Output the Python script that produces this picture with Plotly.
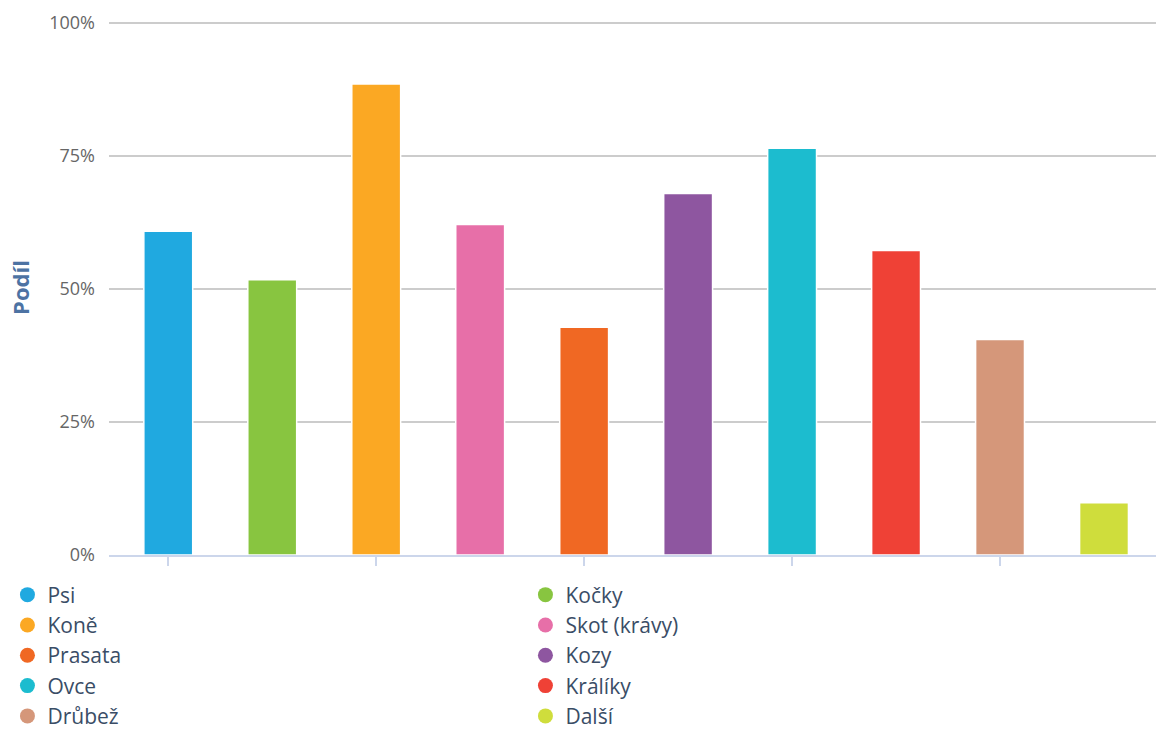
import plotly.graph_objects as go

# Podíl zvířat podle druhu (v %)
categories = ["Psi", "Kočky", "Koně", "Skot (krávy)", "Prasata",
              "Kozy", "Ovce", "Králíky", "Drůbež", "Další"]
values = [60.8, 51.7, 88.5, 62.1, 42.8, 67.9, 76.4, 57.2, 40.5, 9.8]
colors = ["#20a9e0", "#88c540", "#fba823", "#e76fa8", "#f06823",
          "#8e56a0", "#1cbccf", "#ef4136", "#d5977a", "#cfdd3c"]
y_ticks = [0, 25, 50, 75, 100]
y_tick_labels = ["0%", "25%", "50%", "75%", "100%"]

FONT = "Open Sans"

fig = go.Figure()

positions = list(range(len(categories)))

for i, (name, val, col) in enumerate(zip(categories, values, colors)):
    fig.add_trace(go.Bar(
        x=[positions[i]], y=[val], name=name,
        width=0.47,
        marker=dict(color=col, line=dict(color="white", width=1.5)),
        showlegend=False,
        hovertemplate=name + ": %{y:.1f}%<extra></extra>",
    ))

# round legend markers
for name, col in zip(categories, colors):
    fig.add_trace(go.Scatter(
        x=[None], y=[None], mode="markers", name=name,
        marker=dict(color=col, size=15, symbol="circle"),
        showlegend=True,
    ))

fig.update_layout(
    width=1156, height=729,
    margin=dict(l=109, r=0, t=20, b=174, autoexpand=False),
    paper_bgcolor="white", plot_bgcolor="white",
    font=dict(family=FONT),
    barmode="overlay",
    showlegend=True,
    legend=dict(
        orientation="h",
        x=-0.097, xanchor="left",
        y=-0.0365, yanchor="top",
        entrywidth=473, entrywidthmode="pixels",
        font=dict(family=FONT, size=21, color="#3a4d66"),
        bgcolor="rgba(0,0,0,0)",
        traceorder="normal",
    ),
)

fig.update_xaxes(
    range=[-0.57, 9.5],
    tickvals=[0, 2, 4, 6, 8],
    showticklabels=False,
    ticks="outside", ticklen=9, tickwidth=2, tickcolor="#ccd6eb",
    showline=True, linecolor="#ccd6eb", linewidth=2,
    showgrid=False, zeroline=False,
)

fig.update_yaxes(
    range=[0, 100.5],
    tickvals=y_ticks, ticktext=y_tick_labels,
    tickfont=dict(family=FONT, size=18, color="#666666"),
    ticklabelstandoff=13,
    showgrid=True, gridcolor="#cccccc", gridwidth=2,
    zeroline=False, showline=False,
    title=dict(text="<b>Podíl</b>", standoff=13,
               font=dict(family=FONT, size=22, color="#4d73a3")),
)

page_js = ("document.documentElement.style.overflow='hidden';"
           "document.body.style.margin='0';"
           "document.body.style.overflow='hidden';")

fig.write_html("out.html", post_script=page_js)
